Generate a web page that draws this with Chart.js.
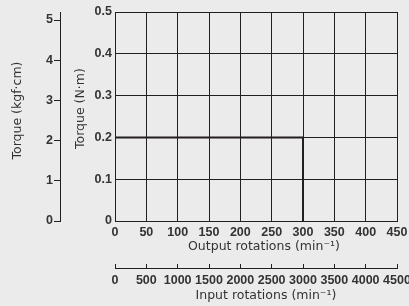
<!DOCTYPE html>
<html><head><meta charset="utf-8">
<script src="https://cdn.jsdelivr.net/npm/chart.js@4/dist/chart.umd.min.js"></script>
<style>html,body{margin:0;padding:0;background:#ebebeb;overflow:hidden}</style>
</head><body>
<canvas id="c" width="409" height="306"></canvas>
<script>
// Data
const outputRpm = [0, 300, 300];          // output rotations (min^-1)
const torqueNm = [0.2, 0.2, 0];           // torque (N·m)
const outputRange = [0, 450, 50];         // min, max, step
const inputRange = [0, 4500, 500];
const torqueNmRange = [0, 0.5, 0.1];
const torqueKgfRange = [0, 5.2, 1];
const titles = {
  nm: '    Torque (N·m)',
  kgf: '   Torque (kgf·cm)',
  out: '    Output rotations (min⁻¹)',
  inp: '     Input rotations (min⁻¹)'
};

const ink = '#231f20';
const txt = '#333333';
const tickFont = {family: "'Liberation Sans Narrow','Liberation Sans',sans-serif", size: 12.5, weight: 'bold'};
const titleFont = {family: "'DejaVu Sans',sans-serif", size: 12.5};

new Chart(document.getElementById('c'), {
  type: 'scatter',
  data: {
    datasets: [{
      data: outputRpm.map((x, i) => ({x: x, y: torqueNm[i]})),
      showLine: true,
      borderColor: ink,
      borderWidth: 2,
      pointRadius: 0,
      xAxisID: 'x',
      yAxisID: 'y'
    }]
  },
  options: {
    responsive: false,
    devicePixelRatio: 1,
    animation: false,
    layout: {padding: {top: 12, right: 0, left: 0, bottom: 0}},
    plugins: {legend: {display: false}, tooltip: {enabled: false}},
    scales: {
      y: {
        type: 'linear', position: 'left', weight: 0,
        min: torqueNmRange[0], max: torqueNmRange[1],
        ticks: {stepSize: torqueNmRange[2], padding: 3, font: tickFont, color: txt,
          callback: v => v === 0 ? '0' : v.toFixed(1)},
        grid: {color: ink, lineWidth: 1, drawTicks: false},
        border: {color: ink, width: 1},
        title: {display: true, text: titles.nm, font: titleFont, color: txt, padding: {top: 13, bottom: 0}},
        afterFit: s => { s.width = 55; }
      },
      y2: {
        type: 'linear', position: 'left', weight: 1,
        min: torqueKgfRange[0], max: torqueKgfRange[1],
        ticks: {stepSize: torqueKgfRange[2], includeBounds: false, padding: 1, font: tickFont, color: txt},
        grid: {drawOnChartArea: false, drawTicks: true, tickLength: 6, color: ink},
        border: {color: ink, width: 1},
        title: {display: true, text: titles.kgf, font: titleFont, color: txt, padding: {top: 10, bottom: 0}},
        afterFit: s => { s.width = 60; }
      },
      x: {
        type: 'linear', position: 'bottom', weight: 0,
        min: outputRange[0], max: outputRange[1],
        ticks: {stepSize: outputRange[2], padding: 4, font: tickFont, color: txt, maxRotation: 0, autoSkip: false},
        grid: {color: ink, lineWidth: 1, drawTicks: false},
        border: {color: ink, width: 1},
        title: {display: true, text: titles.out, font: titleFont, color: txt, padding: {top: 0, bottom: 14}},
        afterFit: s => { s.height = 47; s.paddingRight = 0; }
      },
      x2: {
        type: 'linear', position: 'bottom', weight: 1,
        min: inputRange[0], max: inputRange[1],
        ticks: {stepSize: inputRange[2], padding: 9, font: tickFont, color: txt, maxRotation: 0, autoSkip: false,
          callback: v => String(v)},
        grid: {drawOnChartArea: false, drawTicks: true, tickLength: -4, color: ink},
        border: {color: ink, width: 1},
        title: {display: true, text: titles.inp, font: titleFont, color: txt, padding: {top: 0, bottom: 3}},
        afterFit: s => { s.height = 38; s.paddingRight = 12; }
      }
    }
  }
});
</script>
</body></html>
